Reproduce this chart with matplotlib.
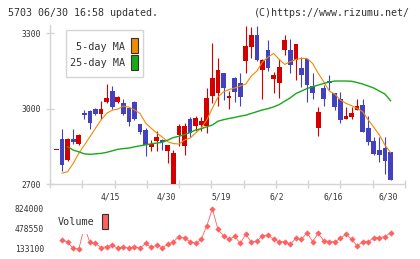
import numpy as np
import matplotlib.pyplot as plt
from matplotlib.patches import Rectangle
import matplotlib.transforms as mtransforms

plt.rcParams["font.family"] = "DejaVu Sans Mono"

W, H = 420, 259

# daily prices (index 0 = 4/1 ... 60 = 6/30)
opens = [2837, 2879, 2796, 2879, 2860, 2983, 2991, 2999, 2979, 3028,
         3070, 3028, 3022, 3001, 3028, 2939, 2915, 2846, 2872, 2876,
         2833, 2700, 2895, 2853, 2960, 2930, 2936, 2930, 3049, 3062,
         3142, 3042, 3122, 3102, 3191, 3247, 3294, 3154, 3233, 3118,
         3103, 3233, 3233, 3194, 3162, 3198, 3090, 2924, 3082, 3110,
         3062, 3038, 2959, 2968, 2995, 3014, 2923, 2871, 2835, 2843,
         2827]
highs = [2837, 2919, 2882, 2919, 2900, 2995, 2995, 3001, 3030, 3098,
         3090, 3050, 3038, 3004, 3030, 2940, 2923, 2876, 2910, 2879,
         2857, 2837, 2937, 2941, 2965, 2969, 2965, 3082, 3261, 3201,
         3142, 3069, 3125, 3142, 3330, 3324, 3329, 3196, 3273, 3147,
         3196, 3293, 3277, 3257, 3207, 3198, 3143, 3005, 3094, 3134,
         3062, 3067, 3005, 3005, 3038, 3038, 2971, 2888, 2888, 2888,
         2827]
lows = [2837, 2753, 2793, 2859, 2854, 2957, 2919, 2976, 2959, 3021,
        2997, 3021, 2975, 2931, 2955, 2899, 2810, 2830, 2833, 2837,
        2784, 2695, 2851, 2815, 2886, 2910, 2910, 2903, 3022, 3009,
        3036, 3000, 3026, 3009, 3142, 3201, 3188, 3038, 3151, 3064,
        3044, 3213, 3143, 3114, 3087, 3028, 3038, 2892, 3012, 3074,
        2995, 2944, 2959, 2959, 2995, 2908, 2855, 2815, 2789, 2740,
        2717]
closes = [2837, 2774, 2879, 2866, 2896, 2975, 2944, 2979, 2999, 3042,
          3005, 3048, 2979, 2948, 2957, 2906, 2854, 2861, 2887, 2866,
          2854, 2825, 2931, 2931, 2902, 2963, 2949, 3042, 3122, 3154,
          3082, 3050, 3065, 3046, 3249, 3294, 3195, 3194, 3163, 3134,
          3166, 3273, 3174, 3257, 3134, 3094, 3064, 2985, 3038, 3102,
          3008, 2955, 2971, 2983, 3010, 2908, 2868, 2821, 2815, 2793,
          2717]

# moving averages as drawn (from index 1 / 2)
ma5 = [2743, 2749, 2782, 2822, 2855, 2888, 2922, 2955, 2981, 2994,
       2998, 3010, 3006, 2995, 2981, 2943, 2922, 2903, 2887, 2868,
       2861, 2859, 2875, 2883, 2903, 2923, 2955, 3002, 3046, 3067,
       3076, 3082, 3090, 3098, 3130, 3150, 3186, 3205, 3220, 3196,
       3176, 3187, 3196, 3200, 3200, 3180, 3141, 3107, 3070, 3058,
       3034, 3021, 3012, 3001, 2988, 2955, 2926, 2895, 2855, 2825]
ma25 = [2848, 2835, 2828, 2820, 2818, 2820, 2822, 2826, 2832, 2838,
        2841, 2843, 2848, 2852, 2856, 2860, 2863, 2866, 2875, 2885,
        2890, 2897, 2905, 2915, 2920, 2928, 2935, 2950, 2956, 2961,
        2965, 2970, 2974, 2981, 2988, 2995, 3000, 3007, 3016, 3030,
        3043, 3060, 3070, 3080, 3087, 3094, 3100, 3106, 3110, 3110,
        3110, 3109, 3104, 3098, 3090, 3082, 3070, 3058, 3032]

volume = [288550, 248300, 144600, 133100, 510000, 248300, 231000, 156100,
          173400, 196500, 144600, 173400, 144600, 173400, 144600, 231000,
          161900, 196500, 156100, 213700, 259800, 346100, 317400, 259800,
          231000, 300100, 536100, 824000, 472800, 357600, 300100, 351900,
          231000, 386500, 248300, 271300, 357600, 374900, 300100, 259800,
          259800, 213700, 317400, 300100, 415200, 259800, 403700, 277000,
          259800, 259800, 317400, 392200, 300100, 184900, 259800, 259800,
          328800, 328800, 346100, 415200]

date_labels = ["4/15", "4/30", "5/19", "6/2", "6/16", "6/30"]
date_idx = [10, 20, 30, 40, 50, 60]

RED = "#d40000"
BLUE = "#4242c0"
ORANGE = "#f08a00"
GREEN = "#18a818"
VOLC = "#ff6060"
AXC = "#d4d4d4"
TXT = "#333333"


def fx(px):
    return px / W


def fy(py):
    return 1 - py / H


fig = plt.figure(figsize=(W / 100, H / 100), dpi=100)

ax = fig.add_axes([fx(50), fy(184), fx(355), 159 / H])
x = np.arange(len(closes))
o = np.array(opens)
c = np.array(closes)
cols = np.where(c >= o, RED, BLUE)
ax.vlines(x, lows, highs, colors=cols, linewidth=0.8, zorder=2)
ax.bar(x, np.maximum(np.abs(c - o), 4), bottom=np.minimum(o, c), width=0.85,
       color=cols, zorder=3)
ax.plot(x[1:], ma5, color=ORANGE, lw=0.8, zorder=4)
ax.plot(x[2:], ma25, color=GREEN, lw=1.0, zorder=4)

ax.set_xlim(-1.17, 62.6)
ax.set_ylim(2700, 3333)
for s in ["top", "right"]:
    ax.spines[s].set_visible(False)
for s in ["left", "bottom"]:
    ax.spines[s].set_color(AXC)
    ax.spines[s].set_linewidth(1.0)
ax.set_yticks([2700, 3000, 3300])
ax.set_xticks(np.linspace(-1.17, 62.6, 12))
ax.set_xticklabels([])
ax.tick_params(axis="both", direction="inout", length=6, color=AXC, width=1.0)
ax.tick_params(axis="y", labelsize=5.8, labelcolor=TXT, pad=3.5)

tr = mtransforms.blended_transform_factory(ax.transData, fig.transFigure)
for i, lab in zip(date_idx, date_labels):
    ax.text(i - 0.35, fy(197.5), lab, transform=tr, ha="center", va="center",
            fontsize=5.8, color=TXT)

# main legend
fig.patches.append(Rectangle((fx(65.7), fy(77.3)), fx(77.6), (77.3 - 30) / H,
                             transform=fig.transFigure, facecolor="white",
                             edgecolor=AXC, lw=1.0, zorder=5))
fig.text(fx(125.5), fy(46.5), "5-day MA", ha="right", va="center",
         fontsize=7.3, color=TXT, zorder=6)
fig.text(fx(125.5), fy(63.3), "25-day MA", ha="right", va="center",
         fontsize=7.3, color=TXT, zorder=6)
for ytop, col in [(37.5, ORANGE), (54.5, GREEN)]:
    fig.patches.append(Rectangle((fx(131.3), fy(ytop + 15)), fx(6.5), 15 / H,
                                 transform=fig.transFigure, facecolor=col,
                                 edgecolor="#333333", lw=0.8, zorder=6))

# volume panel
axv = fig.add_axes([fx(50), fy(249), fx(355), 40 / H])
axv.plot(x[1:], volume, color=VOLC, lw=0.6, marker="D", ms=3.2,
         markeredgewidth=0, clip_on=False, zorder=2)
axv.set_xlim(-1.17, 62.6)
axv.set_ylim(133100, 824000)
for s in axv.spines.values():
    s.set_visible(False)
axv.set_xticks([])
axv.set_yticks([133100, 478550, 824000])
axv.set_yticklabels(["133100", "478550", "824000"])
axv.tick_params(axis="y", length=0, pad=4.3, labelsize=5.8, labelcolor=TXT)

fig.patches.append(Rectangle((fx(55), fy(233.5)), fx(56), 24 / H,
                             transform=fig.transFigure, facecolor="white",
                             edgecolor="none", zorder=5))
fig.text(fx(58), fy(222), "Volume", ha="left", va="center", fontsize=7.3,
         color=TXT, zorder=6)
fig.patches.append(Rectangle((fx(101.7), fy(228.5)), fx(6), 15 / H,
                             transform=fig.transFigure, facecolor=VOLC,
                             edgecolor="#333333", lw=0.8, zorder=6))

fig.text(fx(8), fy(12.5), "5703 06/30 16:58 updated.", ha="left", va="center",
         fontsize=7.2, color=TXT)
fig.text(fx(410), fy(12.5), "(C)https://www.rizumu.net/", ha="right",
         va="center", fontsize=7.2, color=TXT)

fig.savefig("out.png", dpi=100, facecolor="white")
